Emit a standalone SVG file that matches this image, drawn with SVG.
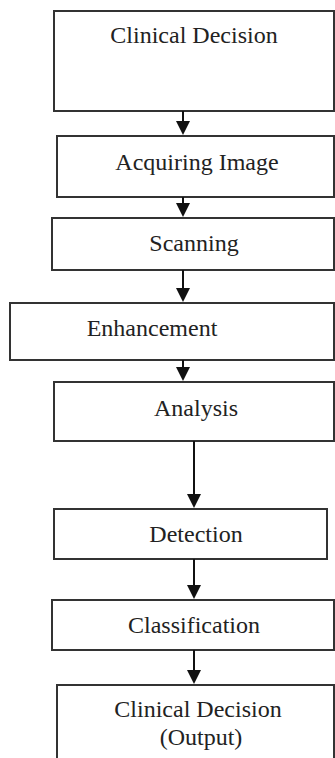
<svg xmlns="http://www.w3.org/2000/svg" width="335" height="758" viewBox="0 0 335 758">
<style>
.box{fill:#fff;stroke:#333;stroke-width:2}
.lbl{font-family:"Liberation Serif","Times New Roman",serif;font-size:24px;fill:#222;text-anchor:middle}
.conn{stroke:#111;stroke-width:2;fill:none}
</style>
<defs>
<marker id="ah" markerUnits="userSpaceOnUse" markerWidth="14" markerHeight="14" viewBox="0 0 14 14" refX="1" refY="7" orient="auto">
<path d="M0,0 L14,7 L0,14 z" fill="#111"/>
</marker>
</defs>
<rect width="335" height="758" fill="#fff"/>
<g id="n1"><rect class="box" x="54" y="11" width="280" height="100"/><text class="lbl" x="194" y="43">Clinical Decision</text></g>
<g id="n2"><rect class="box" x="57" y="136" width="277" height="61"/><text class="lbl" x="197" y="170">Acquiring Image</text></g>
<g id="n3"><rect class="box" x="52" y="218" width="282" height="52"/><text class="lbl" x="194" y="251">Scanning</text></g>
<g id="n4"><rect class="box" x="10" y="303" width="324" height="57"/><text class="lbl" x="152" y="336">Enhancement</text></g>
<g id="n5"><rect class="box" x="54" y="382" width="280" height="59"/><text class="lbl" x="196" y="416">Analysis</text></g>
<g id="n6"><rect class="box" x="54" y="509" width="273" height="50"/><text class="lbl" x="196" y="542">Detection</text></g>
<g id="n7"><rect class="box" x="52" y="600" width="282" height="50"/><text class="lbl" x="194" y="633">Classification</text></g>
<g id="n8"><rect class="box" x="57" y="685" width="277" height="90"/><text class="lbl" x="198" y="717">Clinical Decision</text><text class="lbl" x="201" y="745">(Output)</text></g>
<g id="connectors">
<line class="conn" x1="183" y1="111" x2="183" y2="122" marker-end="url(#ah)"/>
<line class="conn" x1="183" y1="197" x2="183" y2="204" marker-end="url(#ah)"/>
<line class="conn" x1="183" y1="270" x2="183" y2="289" marker-end="url(#ah)"/>
<line class="conn" x1="183" y1="360" x2="183" y2="368" marker-end="url(#ah)"/>
<line class="conn" x1="194" y1="441" x2="194" y2="495" marker-end="url(#ah)"/>
<line class="conn" x1="194" y1="559" x2="194" y2="586" marker-end="url(#ah)"/>
<line class="conn" x1="194" y1="650" x2="194" y2="671" marker-end="url(#ah)"/>
</g>
</svg>
